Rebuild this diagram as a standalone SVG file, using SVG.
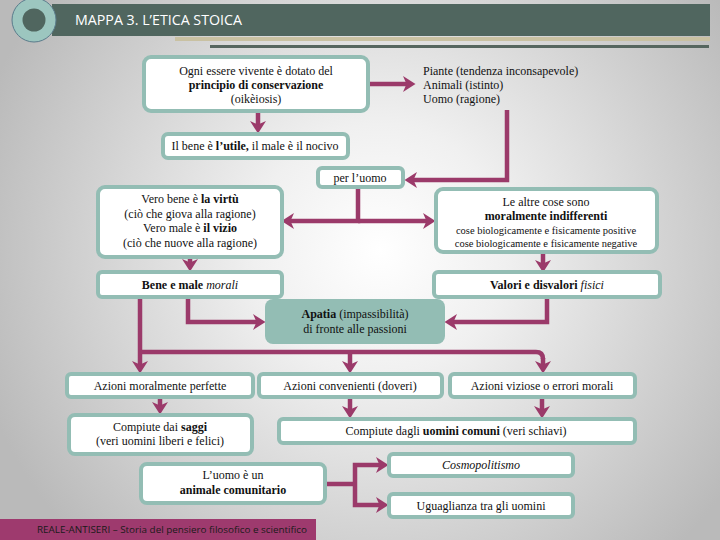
<svg xmlns="http://www.w3.org/2000/svg" width="720" height="540" viewBox="0 0 720 540">
<defs>
<radialGradient id="bg" cx="380" cy="250" r="420" gradientUnits="userSpaceOnUse">
<stop offset="0" stop-color="#ffffff"/>
<stop offset="0.3" stop-color="#f0f0f0"/>
<stop offset="1" stop-color="#bababa"/>
</radialGradient>
<marker id="ah" markerUnits="userSpaceOnUse" markerWidth="16" markerHeight="18" viewBox="0 -9 14 18" refX="5" refY="0" orient="auto">
<path d="M0,-8 L12.5,0 L0,8 L3.5,0 Z" fill="#9b3a6a"/>
</marker>
<style>
.box{fill:#fff;stroke:#93bdb4;stroke-width:4}
.t{font-family:"Liberation Serif","Times New Roman",serif;font-size:12px;fill:#111;text-anchor:middle}
.s{font-size:10.5px}
.l{text-anchor:start}
.c{fill:none;stroke:#9b3a6a;stroke-width:4.5}
.a{marker-end:url(#ah)}
</style>
</defs>
<rect x="0" y="0" width="720" height="540" fill="url(#bg)"/>

<g id="header">
<rect x="52" y="4" width="658" height="32" fill="#50665f"/>
<rect x="175" y="37" width="535" height="4" fill="#c9c1a2"/>
<rect x="210" y="45" width="499" height="3" fill="#56665f"/>
<circle cx="34" cy="20" r="22" fill="#9cc6bf" stroke="#5a7c8c" stroke-width="1"/>
<circle cx="34" cy="20" r="11.5" fill="#50665f"/>
<text x="75" y="25" font-family="'Open Sans','Liberation Sans',sans-serif" font-size="14" fill="#fff" textLength="167" lengthAdjust="spacingAndGlyphs">MAPPA 3. L’ETICA STOICA</text>
</g>

<g id="connectors">
<path class="c a" d="M368,84 H408"/>
<path class="c a" d="M258,112 V126"/>
<path class="c a" d="M507,110 V180 H412"/>
<path class="c a" d="M358,187 V221 H289"/>
<path class="c a" d="M358,221 H428"/>
<path class="c a" d="M190,257 V264"/>
<path class="c a" d="M543,253 V265"/>
<path class="c a" d="M188,297 V322 H258"/>
<path class="c a" d="M547,297 V322 H452"/>
<path class="c a" d="M140,297 V366"/>
<path class="c" d="M140,352 H536 Q543,352 543,359"/>
<path class="c a" d="M543,358 V366"/>
<path class="c a" d="M350,352 V366"/>
<path class="c a" d="M160,397 V407"/>
<path class="c a" d="M350,397 V411"/>
<path class="c a" d="M542,397 V411"/>
<path class="c" d="M325,484 H355"/>
<path class="c a" d="M355,484 V465 H381"/>
<path class="c a" d="M355,484 V505 H381"/>
</g>

<g id="n1">
<rect class="box" x="144" y="57" width="224" height="54" rx="7"/>
<text class="t" x="256" y="75">Ogni essere vivente è dotato del</text>
<text class="t" x="256" y="89" font-weight="bold">principio di conservazione</text>
<text class="t" x="256" y="103">(oikèiosis)</text>
</g>

<g id="n2">
<text class="t l" x="423" y="75">Piante (tendenza inconsapevole)</text>
<text class="t l" x="423" y="89">Animali (istinto)</text>
<text class="t l" x="423" y="103">Uomo (ragione)</text>
</g>

<g id="n3">
<rect class="box" x="163" y="134" width="185" height="24" rx="5"/>
<text class="t" x="255" y="150">Il bene è <tspan font-weight="bold">l’utile,</tspan> il male è il nocivo</text>
</g>

<g id="n4">
<rect class="box" x="318" y="168" width="85" height="19" rx="4"/>
<text class="t" x="360" y="182">per l’uomo</text>
</g>

<g id="n5">
<rect class="box" x="98" y="187" width="184" height="70" rx="7"/>
<text class="t" x="190" y="203">Vero bene è <tspan font-weight="bold">la virtù</tspan></text>
<text class="t" x="190" y="218">(ciò che giova alla ragione)</text>
<text class="t" x="190" y="232">Vero male è <tspan font-weight="bold">il vizio</tspan></text>
<text class="t" x="190" y="247">(ciò che nuove alla ragione)</text>
</g>

<g id="n6">
<rect class="box" x="436" y="189" width="221" height="63" rx="7"/>
<text class="t" x="546" y="206">Le altre cose sono</text>
<text class="t" x="546" y="220" font-weight="bold">moralmente indifferenti</text>
<text class="t s" x="546" y="234">cose biologicamente e fisicamente positive</text>
<text class="t s" x="546" y="247">cose biologicamente e fisicamente negative</text>
</g>

<g id="n7">
<rect class="box" x="98" y="272" width="184" height="25" rx="4"/>
<text class="t" x="190" y="289"><tspan font-weight="bold">Bene e male</tspan> <tspan font-style="italic">morali</tspan></text>
</g>

<g id="n8">
<rect class="box" x="434" y="272" width="226" height="25" rx="4"/>
<text class="t" x="547" y="289"><tspan font-weight="bold">Valori e disvalori</tspan> <tspan font-style="italic">fisici</tspan></text>
</g>

<g id="n9">
<rect x="265" y="299" width="180" height="45" rx="8" fill="#93bdb4"/>
<text class="t" x="355" y="318"><tspan font-weight="bold">Apatia</tspan> (impassibilità)</text>
<text class="t" x="355" y="333">di fronte alle passioni</text>
</g>

<g id="n10">
<rect class="box" x="67" y="374" width="186" height="23" rx="4"/>
<text class="t" x="160" y="390">Azioni moralmente perfette</text>
</g>

<g id="n11">
<rect class="box" x="259" y="374" width="183" height="23" rx="4"/>
<text class="t" x="350" y="390">Azioni convenienti (doveri)</text>
</g>

<g id="n12">
<rect class="box" x="450" y="374" width="185" height="23" rx="4"/>
<text class="t" x="542" y="390">Azioni viziose o errori morali</text>
</g>

<g id="n13">
<rect class="box" x="69" y="415" width="183" height="39" rx="6"/>
<text class="t" x="160" y="431">Compiute dai <tspan font-weight="bold">saggi</tspan></text>
<text class="t" x="160" y="445">(veri uomini liberi e felici)</text>
</g>

<g id="n14">
<rect class="box" x="279" y="419" width="356" height="24" rx="4"/>
<text class="t" x="456" y="435">Compiute dagli <tspan font-weight="bold">uomini comuni</tspan> (veri schiavi)</text>
</g>

<g id="n15">
<rect class="box" x="141" y="464" width="184" height="39" rx="6"/>
<text class="t" x="233" y="479">L’uomo è un</text>
<text class="t" x="233" y="494" font-weight="bold">animale comunitario</text>
</g>

<g id="n16">
<rect class="box" x="389" y="454" width="184" height="22" rx="4"/>
<text class="t" x="481" y="469" font-style="italic">Cosmopolitismo</text>
</g>

<g id="n17">
<rect class="box" x="389" y="494" width="184" height="23" rx="4"/>
<text class="t" x="481" y="510">Uguaglianza tra gli uomini</text>
</g>

<g id="footer">
<rect x="0" y="519" width="316" height="22" fill="#9e3a6e"/>
<text x="37" y="533" font-family="'Open Sans','Liberation Sans',sans-serif" font-size="9.5" fill="#1a1a1a" textLength="270" lengthAdjust="spacingAndGlyphs">REALE-ANTISERI – Storia del pensiero filosofico e scientifico</text>
</g>
</svg>
